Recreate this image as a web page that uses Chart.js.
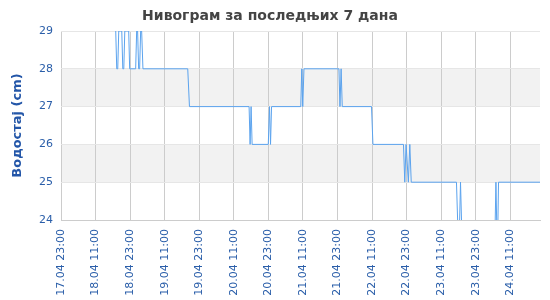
<!DOCTYPE html>
<html>
<head>
<meta charset="utf-8">
<script src="https://cdn.jsdelivr.net/npm/chart.js@4"></script>
<style>
html,body{margin:0;padding:0;background:#fff;}
#wrap{width:550px;height:300px;position:relative;}
</style>
</head>
<body>
<div id="wrap"><canvas id="c"></canvas></div>
<script>
// Time in hours since 17.04 23:00
const hours = [19.0, 19.35, 19.7, 20.05, 21.1, 21.45, 21.8, 22.15, 23.5, 23.84, 25.92, 26.27, 26.6, 26.95, 27.3, 27.65, 28.0, 28.45,
  44.0, 44.6,
  65.3, 65.65, 66.0, 66.35,
  71.96, 72.4, 72.75, 73.1,
  83.24, 83.59, 83.93, 84.35,
  96.5, 96.85, 97.25, 97.65,
  107.8, 108.3,
  118.9, 119.35, 119.8, 120.6, 121.1, 121.6,
  137.3, 138.1, 138.7, 139.4,
  150.5, 151.0, 151.5, 151.9,
  166.3];
// Water level (cm)
const levels = [29, 28, 28, 29, 29, 28, 28, 29, 29, 28, 28, 29, 29, 28, 28, 29, 29, 28,
  28, 27,
  27, 26, 27, 26,
  26, 27, 26, 27,
  27, 28, 27, 28,
  28, 27, 28, 27,
  27, 26,
  26, 25, 26, 25, 26, 25,
  25, 23, 25, 23,
  23, 25, 23, 25,
  25];
const tickHours = [0, 12, 24, 36, 48, 60, 72, 84, 96, 108, 120, 132, 144, 156];
const tickLabels = ["17.04 23:00", "18.04 11:00", "18.04 23:00", "19.04 11:00", "19.04 23:00", "20.04 11:00", "20.04 23:00",
  "21.04 11:00", "21.04 23:00", "22.04 11:00", "22.04 23:00", "23.04 11:00", "23.04 23:00", "24.04 11:00"];
const bands = [[27, 28], [25, 26]];

const points = hours.map((h, i) => ({x: h, y: levels[i]}));

const bandPlugin = {
  id: 'bands',
  beforeDraw(chart) {
    const {ctx, chartArea, scales} = chart;
    const y = scales.y;
    ctx.save();
    ctx.fillStyle = '#f2f2f2';
    bands.forEach(([a, b]) => {
      const y1 = y.getPixelForValue(b), y2 = y.getPixelForValue(a);
      ctx.fillRect(chartArea.left, y1, chartArea.right - chartArea.left, y2 - y1);
    });
    ctx.restore();
  }
};

new Chart(document.getElementById('c'), {
  type: 'line',
  data: {
    datasets: [{
      data: points,
      borderColor: '#5ba3ee',
      borderWidth: 1,
      pointRadius: 0,
      tension: 0,
      fill: false
    }]
  },
  options: {
    responsive: true,
    maintainAspectRatio: false,
    animation: false,
    layout: {padding: {left: 0, right: 10, top: 0, bottom: 0}},
    plugins: {
      legend: {display: false},
      tooltip: {enabled: false},
      title: {
        display: true,
        text: 'Нивограм за последњих 7 дана',
        color: '#444444',
        font: {family: 'DejaVu Sans', size: 14, weight: 'bold'},
        padding: {top: 8, bottom: 6.2}
      }
    },
    scales: {
      x: {
        type: 'linear',
        min: 0,
        max: 166.3,
        afterBuildTicks: (s) => { s.ticks = tickHours.map(v => ({value: v})); },
        afterFit: (s) => { s.height = 80; },
        ticks: {
          autoSkip: false,
          minRotation: 90,
          maxRotation: 90,
          padding: 9,
          color: '#2a5ea9',
          font: {family: 'DejaVu Sans', size: 11},
          callback: (v, i) => tickLabels[i]
        },
        grid: {color: '#cccccc', drawTicks: false},
        border: {display: true, color: '#cccccc'}
      },
      y: {
        min: 24,
        max: 29,
        afterFit: (s) => { s.width = 61; },
        ticks: {
          stepSize: 1,
          padding: 8,
          color: '#2a5ea9',
          font: {family: 'DejaVu Sans', size: 11}
        },
        grid: {color: '#e6e6e6', drawTicks: false},
        border: {display: false},
        title: {
          display: true,
          text: 'Водостај (cm)',
          color: '#2356a8',
          font: {family: 'DejaVu Sans', size: 13, weight: 'bold'},
          padding: {top: 9.4, bottom: 0}
        }
      }
    }
  },
  plugins: [bandPlugin]
});
</script>
</body>
</html>
